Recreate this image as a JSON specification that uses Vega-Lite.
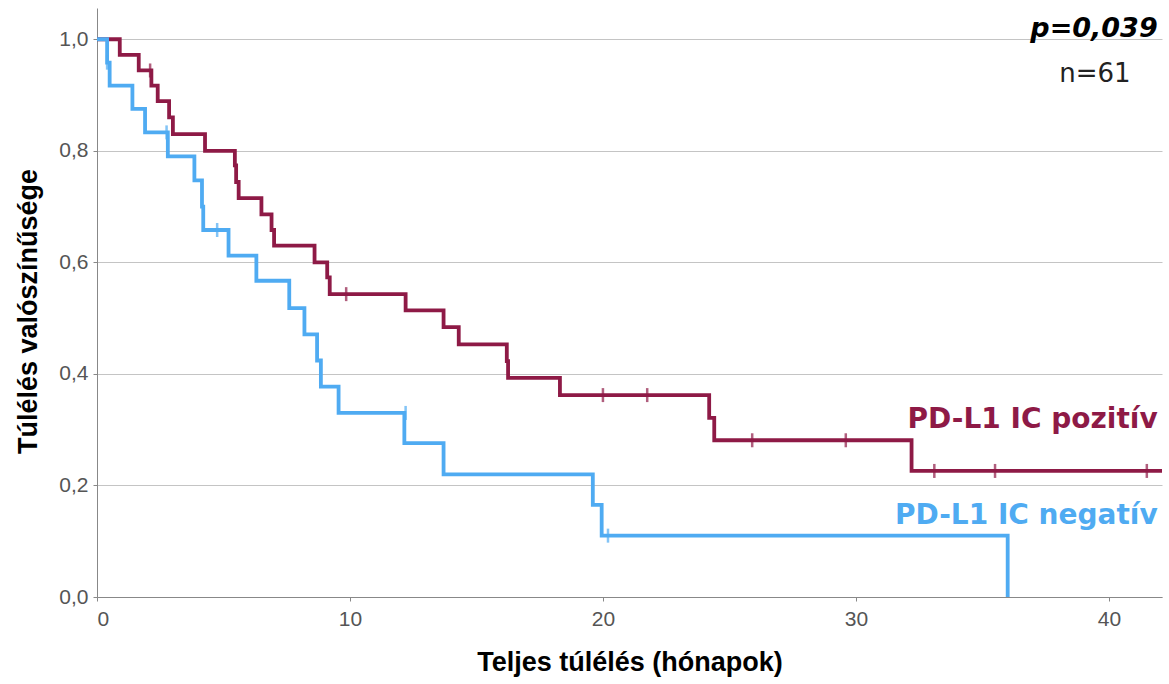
{
  "$schema": "https://vega.github.io/schema/vega-lite/v6.json",
  "width": 1065,
  "height": 589,
  "autosize": {"type": "none"},
  "padding": {"left": 97, "top": 8, "right": 7, "bottom": 87},
  "background": "white",
  "config": {
    "view": {"stroke": null},
    "axis": {"labelFont": "Liberation Sans", "titleFont": "Liberation Sans", "labelColor": "#555555", "labelFontSize": 21, "titleFontSize": 27, "titleFontWeight": "bold", "titleColor": "#000000", "domainColor": "#888888", "tickColor": "#888888", "gridColor": "#c4c4c4"}
  },
  "datasets": {
    "curves": [
      {"group": "pos", "t": 0, "s": 1.0},
      {"group": "pos", "t": 0.9, "s": 0.972},
      {"group": "pos", "t": 1.65, "s": 0.944},
      {"group": "pos", "t": 2.15, "s": 0.917},
      {"group": "pos", "t": 2.4, "s": 0.889},
      {"group": "pos", "t": 2.85, "s": 0.86},
      {"group": "pos", "t": 3.0, "s": 0.83},
      {"group": "pos", "t": 4.27, "s": 0.8},
      {"group": "pos", "t": 5.45, "s": 0.774},
      {"group": "pos", "t": 5.5, "s": 0.744},
      {"group": "pos", "t": 5.6, "s": 0.715},
      {"group": "pos", "t": 6.5, "s": 0.686},
      {"group": "pos", "t": 6.9, "s": 0.658},
      {"group": "pos", "t": 7.0, "s": 0.63},
      {"group": "pos", "t": 8.6, "s": 0.6},
      {"group": "pos", "t": 9.1, "s": 0.573},
      {"group": "pos", "t": 9.2, "s": 0.543},
      {"group": "pos", "t": 12.2, "s": 0.514},
      {"group": "pos", "t": 13.7, "s": 0.484},
      {"group": "pos", "t": 14.3, "s": 0.453},
      {"group": "pos", "t": 16.2, "s": 0.423},
      {"group": "pos", "t": 16.25, "s": 0.393},
      {"group": "pos", "t": 18.3, "s": 0.362},
      {"group": "pos", "t": 24.2, "s": 0.321},
      {"group": "pos", "t": 24.4, "s": 0.281},
      {"group": "pos", "t": 32.2, "s": 0.226},
      {"group": "pos", "t": 42.1, "s": 0.226},
      {"group": "neg", "t": 0, "s": 1.0},
      {"group": "neg", "t": 0.4, "s": 0.958},
      {"group": "neg", "t": 0.5, "s": 0.917},
      {"group": "neg", "t": 1.4, "s": 0.875},
      {"group": "neg", "t": 1.9, "s": 0.833},
      {"group": "neg", "t": 2.8, "s": 0.79},
      {"group": "neg", "t": 3.85, "s": 0.747},
      {"group": "neg", "t": 4.15, "s": 0.7},
      {"group": "neg", "t": 4.2, "s": 0.658},
      {"group": "neg", "t": 5.2, "s": 0.612},
      {"group": "neg", "t": 6.3, "s": 0.567},
      {"group": "neg", "t": 7.6, "s": 0.518},
      {"group": "neg", "t": 8.2, "s": 0.471},
      {"group": "neg", "t": 8.7, "s": 0.424},
      {"group": "neg", "t": 8.85, "s": 0.377},
      {"group": "neg", "t": 9.55, "s": 0.33},
      {"group": "neg", "t": 12.15, "s": 0.276},
      {"group": "neg", "t": 13.7, "s": 0.22},
      {"group": "neg", "t": 19.6, "s": 0.165},
      {"group": "neg", "t": 19.95, "s": 0.11},
      {"group": "neg", "t": 36.0, "s": 0.0}
    ],
    "censors": [
      {"group": "pos", "t": 2.1, "s": 0.944},
      {"group": "pos", "t": 9.85, "s": 0.543},
      {"group": "pos", "t": 20.0, "s": 0.362},
      {"group": "pos", "t": 21.75, "s": 0.362},
      {"group": "pos", "t": 25.9, "s": 0.281},
      {"group": "pos", "t": 29.6, "s": 0.281},
      {"group": "pos", "t": 33.1, "s": 0.226},
      {"group": "pos", "t": 35.5, "s": 0.226},
      {"group": "pos", "t": 41.5, "s": 0.226},
      {"group": "neg", "t": 0.4, "s": 0.958},
      {"group": "neg", "t": 2.75, "s": 0.833},
      {"group": "neg", "t": 4.75, "s": 0.658},
      {"group": "neg", "t": 12.2, "s": 0.33},
      {"group": "neg", "t": 20.2, "s": 0.11}
    ]
  },
  "layer": [
    {
      "data": {"name": "curves"},
      "mark": {"type": "line", "interpolate": "step-after", "strokeWidth": 3.8},
      "encoding": {
        "x": {"field": "t", "type": "quantitative", "scale": {"domain": [0, 42.1], "nice": false}, "axis": {"title": "Teljes túlélés (hónapok)", "values": [0, 10, 20, 30, 40], "grid": false, "tickSize": 4, "labelPadding": 7, "titlePadding": 20}},
        "y": {"field": "s", "type": "quantitative", "scale": {"domain": [0, 1.056], "nice": false}, "axis": {"title": "Túlélés valószínűsége", "titleY": 303, "values": [0, 0.2, 0.4, 0.6, 0.8, 1.0], "labelExpr": "replace(format(datum.value, '.1f'), '.', ',')", "grid": true, "tickSize": 4, "labelPadding": 5, "titlePadding": 16}},
        "color": {"field": "group", "type": "nominal", "scale": {"domain": ["pos", "neg"], "range": ["#8e1a46", "#4fabf2"]}, "legend": null},
        "detail": {"field": "group"}
      }
    },
    {
      "data": {"name": "censors"},
      "mark": {"type": "tick", "orient": "vertical", "thickness": 2.5, "size": 14},
      "encoding": {
        "x": {"field": "t", "type": "quantitative"},
        "y": {"field": "s", "type": "quantitative"},
        "color": {"field": "group", "type": "nominal", "legend": null}
      }
    },
    {
      "data": {"values": [
        {"t": 41.93, "s": 0.303, "label": "PD-L1 IC pozitív", "group": "pos"},
        {"t": 41.93, "s": 0.131, "label": "PD-L1 IC negatív", "group": "neg"}
      ]},
      "mark": {"type": "text", "align": "right", "baseline": "alphabetic", "font": "DejaVu Sans", "fontWeight": "bold", "fontSize": 28},
      "encoding": {
        "x": {"field": "t", "type": "quantitative"},
        "y": {"field": "s", "type": "quantitative"},
        "text": {"field": "label"},
        "color": {"field": "group", "type": "nominal", "legend": null}
      }
    },
    {
      "data": {"values": [{"t": 41.93, "s": 1.004, "label": "p=0,039"}]},
      "mark": {"type": "text", "align": "right", "baseline": "alphabetic", "font": "DejaVu Sans", "fontWeight": "bold", "fontStyle": "italic", "fontSize": 27, "color": "#000000"},
      "encoding": {
        "x": {"field": "t", "type": "quantitative"},
        "y": {"field": "s", "type": "quantitative"},
        "text": {"field": "label"}
      }
    },
    {
      "data": {"values": [{"t": 39.45, "s": 0.923, "label": "n=61"}]},
      "mark": {"type": "text", "align": "center", "baseline": "alphabetic", "font": "DejaVu Sans", "fontSize": 26, "color": "#222222"},
      "encoding": {
        "x": {"field": "t", "type": "quantitative"},
        "y": {"field": "s", "type": "quantitative"},
        "text": {"field": "label"}
      }
    }
  ]
}
